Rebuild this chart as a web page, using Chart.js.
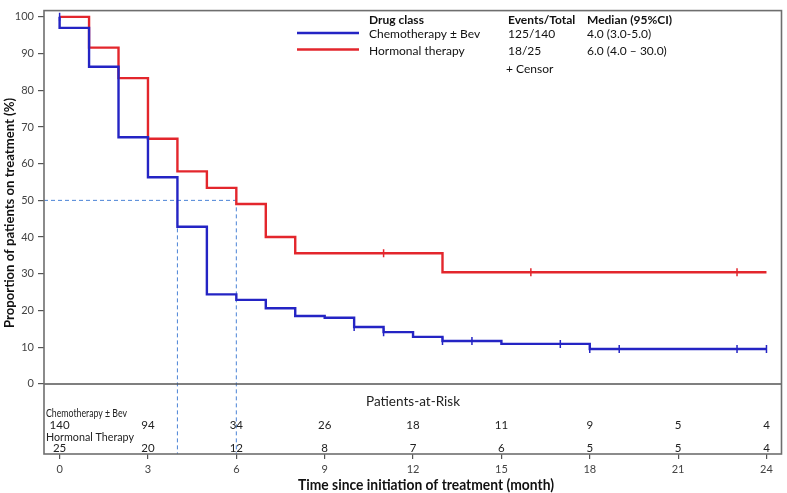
<!DOCTYPE html>
<html><head><meta charset="utf-8">
<script src="https://cdn.jsdelivr.net/npm/chart.js@4/dist/chart.umd.min.js"></script>
<style>html,body{margin:0;padding:0;background:#fff}</style>
</head><body>
<canvas id="c" width="787" height="493"></canvas>
<script>
// ---- data ----
const chemoTimes  = [0, 0, 1, 2, 3, 4, 5, 6, 7, 8, 9, 10, 11, 12, 13, 15, 18, 24];
const chemoValues = [100, 97, 86.4, 67.2, 56.3, 42.8, 24.4, 22.9, 20.6, 18.5, 18.0, 15.5, 14.1, 12.8, 11.7, 10.9, 9.5, 9.5];
const hormTimes   = [0, 1, 2, 3, 4, 5, 6, 7, 8, 13, 24];
const hormValues  = [100, 91.6, 83.3, 66.8, 57.9, 53.4, 49.0, 40.0, 35.6, 30.4, 30.4];
const chemoCensorTimes  = [0, 10, 11, 13, 14, 17, 18, 19, 23, 24];
const chemoCensorValues = [100, 15.5, 14.1, 11.7, 11.7, 10.9, 9.5, 9.5, 9.5, 9.5];
const hormCensorTimes   = [11, 16, 23];
const hormCensorValues  = [35.6, 30.4, 30.4];
const medianTimes = [4.0, 6.0];
const medianLevel = 50;
const xTicks = [0, 3, 6, 9, 12, 15, 18, 21, 24];
const yTicks = [0, 10, 20, 30, 40, 50, 60, 70, 80, 90, 100];
const riskTimes   = [0, 3, 6, 9, 12, 15, 18, 21, 24];
const chemoAtRisk = [140, 94, 34, 26, 18, 11, 9, 5, 4];
const hormAtRisk  = [25, 20, 12, 8, 7, 6, 5, 5, 4];
const groupNames  = ['Chemotherapy ± Bev', 'Hormonal therapy'];
const riskNames   = ['Chemotherapy ± Bev', 'Hormonal Therapy'];
const eventsTotal = ['125/140', '18/25'];
const medianCI    = ['4.0 (3.0-5.0)', '6.0 (4.0 – 30.0)'];

const X_MIN = -0.53, X_MAX = 24.51, Y_MIN = -19.1, Y_MAX = 101.7;
const BLUE = '#2424c4', RED = '#e3262c', DASH = '#4a82d6';

const pts = (xs, ys) => xs.map((x, i) => ({x, y: ys[i]}));

const datasets = [
  {label: groupNames[0], data: pts(chemoTimes, chemoValues), borderColor: BLUE, borderWidth: 2.4, stepped: 'before', pointRadius: 0, order: 1},
  {label: groupNames[1], data: pts(hormTimes, hormValues), borderColor: RED, borderWidth: 2.4, stepped: 'before', pointRadius: 0, order: 1},
  {label: 'c1', data: pts(chemoCensorTimes, chemoCensorValues), showLine: false, pointStyle: 'line', rotation: 90, pointRadius: 4, borderColor: BLUE, borderWidth: 1.5, order: 0},
  {label: 'c2', data: pts(hormCensorTimes, hormCensorValues), showLine: false, pointStyle: 'line', rotation: 90, pointRadius: 4, borderColor: RED, borderWidth: 1.5, order: 0},
  {label: 'mh', data: [{x: X_MIN, y: medianLevel}, {x: Math.max(...medianTimes), y: medianLevel}], borderColor: DASH, borderWidth: 1, borderDash: [4, 3], pointRadius: 0, order: 2},
];
medianTimes.forEach(t => datasets.push({label: 'mv', data: [{x: t, y: medianLevel}, {x: t, y: Y_MIN}], borderColor: DASH, borderWidth: 1, borderDash: [4, 3], pointRadius: 0, order: 2}));

// draw text squeezed horizontally to a given width (emulates a condensed face)
function fitText(ctx, text, x, y, font, width, align) {
  ctx.save();
  ctx.font = font;
  const w = ctx.measureText(text).width;
  const s = width / w;
  let left = align === 'center' ? x - width / 2 : x;
  ctx.translate(left, y);
  ctx.scale(s, 1);
  ctx.textAlign = 'left';
  ctx.fillText(text, 0, 0);
  ctx.restore();
}

const decor = {
  id: 'decor',
  afterDraw(chart) {
    const ctx = chart.ctx, a = chart.chartArea, xs = chart.scales.x, ys = chart.scales.y;
    ctx.save();
    // zero line
    ctx.strokeStyle = '#555'; ctx.lineWidth = 1.5;
    ctx.beginPath(); ctx.moveTo(a.left, ys.getPixelForValue(0)); ctx.lineTo(a.right, ys.getPixelForValue(0)); ctx.stroke();
    // frame
    ctx.strokeStyle = '#6e6e6e'; ctx.lineWidth = 1.6;
    ctx.strokeRect(a.left, a.top, a.right - a.left, a.bottom - a.top);

    // legend
    ctx.textBaseline = 'middle'; ctx.textAlign = 'left'; ctx.fillStyle = '#111';
    ctx.font = 'bold 12px Lato';
    ctx.fillText('Drug class', 369, 20);
    ctx.fillText('Events/Total', 508, 20);
    ctx.fillText('Median (95%CI)', 587, 20);
    ctx.font = '12px Lato';
    const rowsY = [34.5, 51];
    [BLUE, RED].forEach((c, i) => {
      ctx.strokeStyle = c; ctx.lineWidth = 2.4;
      ctx.beginPath(); ctx.moveTo(297, rowsY[i] - 1.5); ctx.lineTo(359, rowsY[i] - 1.5); ctx.stroke();
      ctx.fillText(groupNames[i], 369, rowsY[i]);
      ctx.fillText(eventsTotal[i], 508, rowsY[i]);
      ctx.fillText(medianCI[i], 587, rowsY[i]);
    });
    ctx.fillText('+ Censor', 506, 69);

    // patients at risk
    ctx.fillStyle = '#222';
    fitText(ctx, 'Patients-at-Risk', 413, 401, '14px Lato', 94, 'center');
    fitText(ctx, riskNames[0], a.left + 2, 413, '12px Lato', 81, 'left');
    fitText(ctx, riskNames[1], a.left + 2, 437, '12px Lato', 88, 'left');
    ctx.font = '11.5px Lato'; ctx.textAlign = 'center';
    riskTimes.forEach((t, i) => {
      const px = xs.getPixelForValue(t);
      ctx.fillText(String(chemoAtRisk[i]), px, 425);
      ctx.fillText(String(hormAtRisk[i]), px, 448);
    });

    // axis titles
    ctx.fillStyle = '#111';
    fitText(ctx, 'Time since initiation of treatment (month)', 426, 485, 'bold 15px Lato', 256, 'center');
    ctx.save();
    ctx.translate(10, 213); ctx.rotate(-Math.PI / 2);
    fitText(ctx, 'Proportion of patients on treatment (%)', 0, 0, 'bold 12.5px Lato', 230, 'center');
    ctx.restore();
    ctx.restore();
  }
};

new Chart(document.getElementById('c'), {
  type: 'line',
  data: {datasets},
  options: {
    responsive: false, animation: false, devicePixelRatio: 1,
    layout: {padding: {top: 3, right: 5, left: 0, bottom: 0}},
    plugins: {legend: {display: false}, tooltip: {enabled: false}},
    elements: {line: {tension: 0}},
    scales: {
      x: {
        type: 'linear', min: X_MIN, max: X_MAX,
        afterBuildTicks: s => { s.ticks = xTicks.map(v => ({value: v})); },
        afterFit: s => { s.height = 39; },
        border: {display: false},
        grid: {drawOnChartArea: false, drawTicks: true, tickLength: 5, color: '#555', lineWidth: 1.2},
        ticks: {padding: 4, color: '#444', font: {family: 'Lato', size: 11}, maxRotation: 0, autoSkip: false}
      },
      y: {
        type: 'linear', min: Y_MIN, max: Y_MAX,
        afterBuildTicks: s => { s.ticks = yTicks.map(v => ({value: v})); },
        afterFit: s => { s.width = 44; },
        border: {display: false},
        grid: {drawOnChartArea: false, drawTicks: true, tickLength: 6, color: '#555', lineWidth: 1.2},
        ticks: {padding: 4, color: '#444', font: {family: 'Lato', size: 11}, autoSkip: false}
      }
    }
  },
  plugins: [decor]
});
</script>
</body></html>
